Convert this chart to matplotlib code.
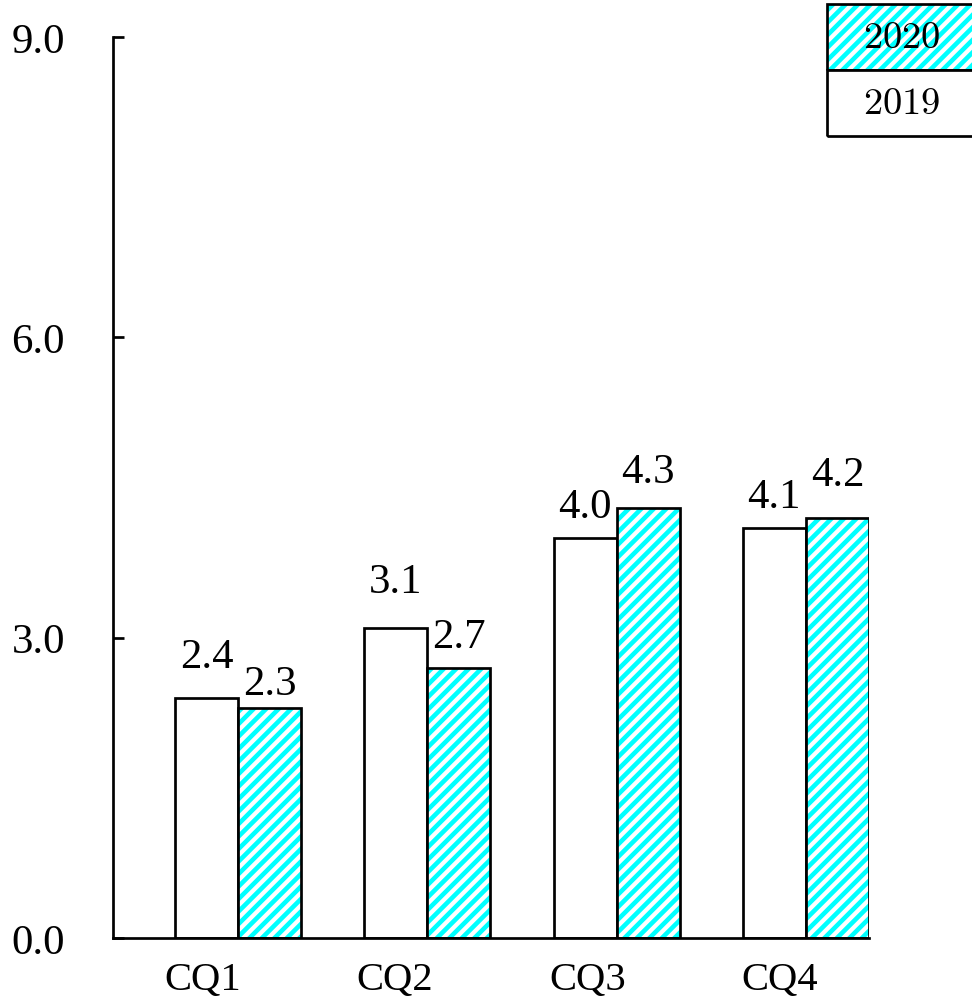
import numpy as np
import matplotlib
matplotlib.use('Agg')
from matplotlib import pyplot as plt
from matplotlib.patches import Rectangle

categories = ['CQ1', 'CQ2', 'CQ3', 'CQ4']
values_2019 = [2.4, 3.1, 4.0, 4.1]
values_2020 = [2.3, 2.7, 4.3, 4.2]
series_names = ['2019', '2020']
yticks = [0.0, 3.0, 6.0, 9.0]

plt.rcParams['font.family'] = ['Liberation Serif', 'DejaVu Serif']
plt.rcParams['mathtext.fontset'] = 'cm'
plt.rcParams['hatch.linewidth'] = 2.2

DPI = 150
W, H = 972, 1001
fig = plt.figure(figsize=(W / DPI, H / DPI), dpi=DPI)
# axes box in pixels: left 113, right 869, y=0 at 939, y=9 at 38
ax = fig.add_axes([113 / W, 1 - 939 / H, (869 - 113) / W, (939 - 38) / H])

x = np.arange(len(categories))
w = 1 / 3
lw = 1.3
ax.bar(x - w, values_2019, w, align='edge', color='white', edgecolor='black', linewidth=lw, zorder=2)
# hatch in cyan, then a black outline on top
ax.bar(x, values_2020, w, align='edge', color='white', hatch='////', edgecolor='cyan', linewidth=0, zorder=2)
ax.bar(x, values_2020, w, align='edge', fill=False, edgecolor='black', linewidth=lw, zorder=3)

# value labels, gaps (pixels) between bar top and text baseline as in the original
gap19 = [31, 36, 21, 21]
gap20 = [14, 21, 26, 33]
for i in range(len(categories)):
    ax.annotate(f'{values_2019[i]:.1f}', (x[i] - w / 2, values_2019[i]), xytext=(0, gap19[i]),
                textcoords='offset pixels', ha='center', va='baseline', fontsize=20.5)
    ax.annotate(f'{values_2020[i]:.1f}', (x[i] + w / 2, values_2020[i]), xytext=(0, gap20[i]),
                textcoords='offset pixels', ha='center', va='baseline', fontsize=20.5)

ax.set_xlim(-0.661, 3.3335)
ax.set_ylim(0, 9)
ax.set_yticks(yticks)
ax.set_yticklabels([f'{v:.1f}' for v in yticks])
ax.tick_params(axis='y', direction='in', length=5.3, width=lw, pad=23, labelsize=20.5)
ax.set_xticks(x * 1.015 - 0.185)
ax.set_xticklabels(categories)
ax.tick_params(axis='x', length=0, pad=11, labelsize=19.5)
for s in ['top', 'right']:
    ax.spines[s].set_visible(False)
for s in ['left', 'bottom']:
    ax.spines[s].set_linewidth(lw)

# legend drawn as stacked cells at the top right, cut by the figure edge
cell_h = 66 / H
x0 = 827 / W
for k, name in enumerate(reversed(series_names)):
    y0 = 1 - (5 + 66 * (k + 1)) / H
    if name == '2020':
        fig.add_artist(Rectangle((x0, y0), 0.3, cell_h, transform=fig.transFigure,
                                 facecolor='white', hatch='////', edgecolor='cyan', linewidth=0))
    else:
        fig.add_artist(Rectangle((x0, y0), 0.3, cell_h, transform=fig.transFigure,
                                 facecolor='white', edgecolor='none'))
    fig.add_artist(Rectangle((x0, y0), 0.3, cell_h, transform=fig.transFigure,
                             fill=False, edgecolor='black', linewidth=lw))
    fig.text(902 / W, y0 + cell_h / 2, r'$\mathrm{' + name + '}$', ha='center', va='center', fontsize=18.5)

fig.savefig('out.png', dpi=DPI)
